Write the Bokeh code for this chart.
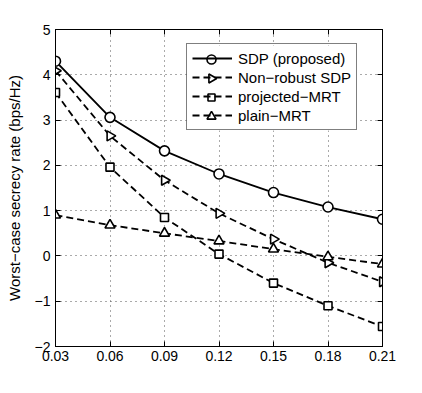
import math
from bokeh.plotting import figure
from bokeh.models import (FixedTicker, LinearAxis, Label, Range1d, Legend, LegendItem,
                          CustomJSTickFormatter, BoxAnnotation)
from bokeh.embed import file_html
from bokeh.resources import INLINE

alpha_e = [0.03, 0.06, 0.09, 0.12, 0.15, 0.18, 0.21]
sdp_proposed = [4.30, 3.06, 2.32, 1.81, 1.40, 1.08, 0.81]
non_robust_sdp = [4.09, 2.65, 1.67, 0.94, 0.37, -0.15, -0.57]
projected_mrt = [3.61, 1.96, 0.85, 0.04, -0.60, -1.10, -1.56]
plain_mrt = [0.90, 0.68, 0.50, 0.33, 0.15, -0.02, -0.18]
series_names = ["SDP (proposed)", "Non\u2212robust SDP", "projected\u2212MRT", "plain\u2212MRT"]
x_ticks = [0.03, 0.06, 0.09, 0.12, 0.15, 0.18, 0.21]
y_ticks = [-2, -1, 0, 1, 2, 3, 4, 5]

FONT = "Liberation Sans"
X0, X1, Y0, Y1 = 0.03, 0.21, -2, 5
W, H = 414, 392
BL, BT, BR, BB = 55, 29, 32, 46
FW, FH = W - BL - BR, H - BT - BB

p = figure(width=W, height=H, output_backend="svg", toolbar_location=None,
           x_range=Range1d(X0, X1), y_range=Range1d(Y0, Y1),
           min_border_left=BL, min_border_top=BT, min_border_right=BR, min_border_bottom=BB)
p.background_fill_color = "white"
p.border_fill_color = "white"
p.outline_line_color = "black"
p.outline_line_width = 1

for ax in (p.xaxis[0], p.yaxis[0]):
    ax.major_tick_in = 5
    ax.major_tick_out = 0
    ax.minor_tick_in = 0
    ax.minor_tick_out = 0
    ax.axis_line_color = "black"
    ax.major_label_text_font = FONT
    ax.major_label_text_font_size = "14px"
    ax.major_label_text_color = "black"
p.xaxis[0].ticker = FixedTicker(ticks=x_ticks)
p.yaxis[0].ticker = FixedTicker(ticks=y_ticks)
p.xaxis[0].major_label_standoff = 4
p.yaxis[0].major_label_standoff = 5
p.yaxis[0].axis_label = "Worst\u2212case secrecy rate (bps/Hz)"
p.yaxis[0].axis_label_text_font = FONT
p.yaxis[0].axis_label_text_font_size = "15px"
p.yaxis[0].axis_label_text_font_style = "normal"
p.yaxis[0].axis_label_text_color = "black"
p.yaxis[0].axis_label_standoff = 9

# tick marks on the top and right edges (MATLAB box style)
blank = CustomJSTickFormatter(code="return ''")
top = LinearAxis(ticker=FixedTicker(ticks=x_ticks), major_tick_in=5, major_tick_out=0,
                 minor_tick_in=0, minor_tick_out=0, formatter=blank, major_label_standoff=0)
right = LinearAxis(ticker=FixedTicker(ticks=y_ticks), major_tick_in=5, major_tick_out=0,
                   minor_tick_in=0, minor_tick_out=0, formatter=blank, major_label_standoff=0)
p.add_layout(top, "above")
p.add_layout(right, "right")

p.xgrid.ticker = FixedTicker(ticks=x_ticks)
p.ygrid.ticker = FixedTicker(ticks=y_ticks)
for g in (p.xgrid[0], p.ygrid[0]):
    g.grid_line_color = "#555555"
    g.grid_line_dash = "1 4"
    g.grid_line_width = 1

# legend box layout (screen px relative to the frame)
LEG_X, LEG_TOP, LEG_W = 131, 16, 171
PAD, ROW, SP, GW = 5, 18, 1, 40
n = len(series_names)
leg_h = 2 * PAD + n * ROW + (n - 1) * SP


def sx2d(v):
    return X0 + v / FW * (X1 - X0)


def sy2d(v):
    return Y0 + v / FH * (Y1 - Y0)


# white backing of the legend, above the grid, below the glyphs
backing = BoxAnnotation(left=sx2d(LEG_X), right=sx2d(LEG_X + LEG_W),
                        top=sy2d(FH - LEG_TOP), bottom=sy2d(FH - LEG_TOP - leg_h),
                        fill_color="white", fill_alpha=1.0, line_color=None,
                        level="underlay")
p.add_layout(backing, "center")

lw = 1.8
dash = "7 4"
solid = "solid"
series = [sdp_proposed, non_robust_sdp, projected_mrt, plain_mrt]
dashes = [solid, dash, dash, dash]
markers = ["circle", "triangle", "square", "triangle"]
angles = [0, -math.pi / 2, 0, 0]
sizes = [10, 10, 8, 10]

items = []
for ys, name, d, mk, ang, sz in zip(series, series_names, dashes, markers, angles, sizes):
    ln = p.line(alpha_e, ys, line_color="black", line_width=lw, line_dash=d)
    p.scatter(alpha_e, ys, marker=mk, angle=ang, size=sz, fill_color="white",
              line_color="black", line_width=1.6)
    items.append(LegendItem(label=name, renderers=[ln]))

legend = Legend(items=items, location=(LEG_X, FH - LEG_TOP - leg_h), glyph_width=GW,
                glyph_height=ROW, label_height=ROW,
                label_text_font=FONT, label_text_font_size="15px", label_text_color="black",
                border_line_color="black", border_line_width=1,
                background_fill_alpha=0.0,
                padding=PAD, spacing=SP, margin=0, label_standoff=6)
p.add_layout(legend, "center")

# legend sample markers (kept under the transparent legend so the rotated triangle shows)
cx = LEG_X + PAD + GW / 2
for i, (mk, ang, sz) in enumerate(zip(markers, angles, sizes)):
    cy = FH - LEG_TOP - PAD - ROW / 2 - i * (ROW + SP)
    p.scatter([sx2d(cx)], [sy2d(cy)], marker=mk, angle=ang, size=sz - 1, fill_color="white",
              line_color="black", line_width=1.6)

# x axis label: alpha with subscript e
p.add_layout(Label(x=167, y=-31, x_units="screen", y_units="screen", text="\u03b1",
                   text_font=FONT, text_font_size="15px", text_align="center",
                   text_baseline="alphabetic", text_color="black"))
p.add_layout(Label(x=172, y=-36, x_units="screen", y_units="screen", text="e",
                   text_font=FONT, text_font_size="10px", text_align="left",
                   text_baseline="alphabetic", text_color="black"))

open("out.html", "w").write(file_html(p, INLINE))
